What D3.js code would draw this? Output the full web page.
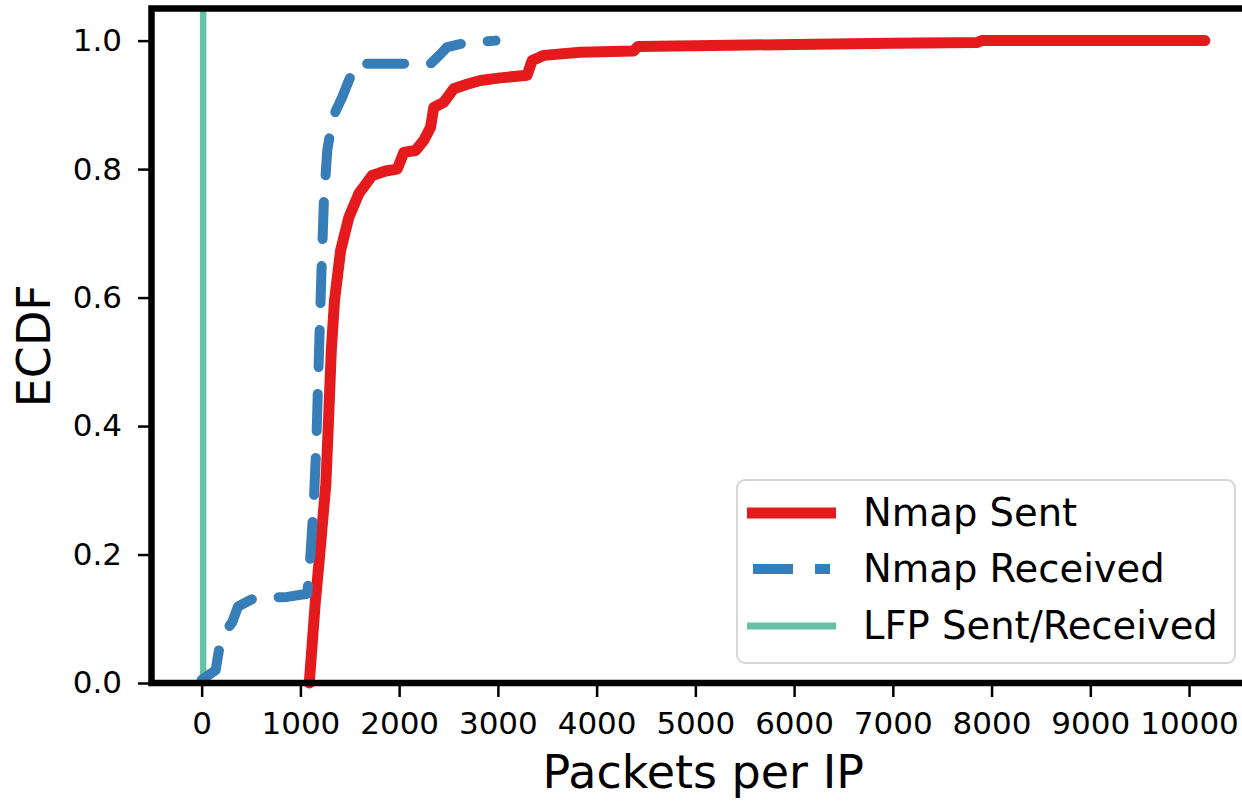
<!DOCTYPE html>
<html lang="en">
	<head>
		<meta charset="UTF-8">
		<title>ECDF of packets per IP</title>
		<script src="https://d3js.org/d3.v7.min.js"></script>
		<style>
			body { margin: 0; background: #fff; }
			text { font-family: "DejaVu Sans", sans-serif; fill: #000; }
		</style>
	</head>
	<body>
		<div id="chart"></div>

		<script type="text/javascript">
			// ECDF curves: [packets, cumulative fraction]
			const nmapSent = [
				[1090, 0], [1150, 0.124], [1190, 0.19], [1258, 0.31], [1289, 0.425],
				[1313, 0.518], [1346, 0.596], [1407, 0.673], [1491, 0.725], [1592, 0.762],
				[1727, 0.790], [1862, 0.797], [1981, 0.800], [2048, 0.826], [2166, 0.829],
				[2250, 0.845], [2318, 0.865], [2351, 0.896], [2452, 0.904], [2553, 0.925],
				[2688, 0.932], [2823, 0.938], [3026, 0.942], [3296, 0.946], [3347, 0.969],
				[3465, 0.977], [3836, 0.982], [4375, 0.984], [4420, 0.991], [5000, 0.992],
				[6000, 0.994], [7000, 0.996], [7850, 0.997], [7900, 1.0], [10160, 1.0]
			];

			const nmapReceived = [
				[0, 0.005], [142, 0.02], [175, 0.051], [226, 0.077], [311, 0.095],
				[368, 0.119], [530, 0.132], [867, 0.134], [1070, 0.139], [1103, 0.202],
				[1137, 0.285], [1160, 0.367], [1177, 0.456], [1194, 0.544], [1215, 0.648],
				[1238, 0.751], [1272, 0.829], [1306, 0.860], [1356, 0.890], [1424, 0.912],
				[1491, 0.938], [1559, 0.964], [2318, 0.964], [2419, 0.979], [2487, 0.990],
				[2688, 0.997], [2976, 1.0]
			];

			// LFP sends/receives the same small count for every IP
			const lfpPackets = 15;

			const xTicks = [0, 1000, 2000, 3000, 4000, 5000, 6000, 7000, 8000, 9000, 10000];
			const yTicks = [0, 0.2, 0.4, 0.6, 0.8, 1.0];

			const seriesNames = ['Nmap Sent', 'Nmap Received', 'LFP Sent/Received'];
			const seriesColors = ['#e41a1c', '#377eb8', '#66c2a5'];

			const W = 1242, H = 801;
			const plotLeft = 151.5, plotTop = 8.5, plotBottom = 683, plotRight = 1255;

			const svg = d3.select('#chart')
				.append('svg')
				.attr('width', W)
				.attr('height', H);

			const x = d3.scaleLinear()
				.domain([-508, 10668])
				.range([plotLeft, plotRight]);

			const y = d3.scaleLinear()
				.domain([0, 1.05])
				.range([plotBottom, plotTop]);

			const line = d3.line()
				.x(d => x(d[0]))
				.y(d => y(d[1]));

			// LFP vertical line over the full height
			svg.append('path')
				.datum([[lfpPackets, 0], [lfpPackets, 1.05]])
				.attr('d', line)
				.attr('fill', 'none')
				.attr('stroke', seriesColors[2])
				.attr('stroke-width', 6.5);

			svg.append('path')
				.datum(nmapSent)
				.attr('d', line)
				.attr('fill', 'none')
				.attr('stroke', seriesColors[0])
				.attr('stroke-width', 11)
				.attr('stroke-linecap', 'round')
				.attr('stroke-linejoin', 'round');

			svg.append('path')
				.datum(nmapReceived)
				.attr('d', line)
				.attr('fill', 'none')
				.attr('stroke', seriesColors[1])
				.attr('stroke-width', 10)
				.attr('stroke-dasharray', '37 27')
				.attr('stroke-linecap', 'round')
				.attr('stroke-linejoin', 'round');

			// axes
			const xAxis = svg.append('g')
				.attr('transform', `translate(0,${plotBottom})`)
				.call(d3.axisBottom(x).tickValues(xTicks).tickSize(14).tickPadding(15).tickFormat(d3.format('d')));
			xAxis.select('.domain').remove();
			xAxis.selectAll('.tick line').attr('stroke', '#000').attr('stroke-width', 2.5);
			xAxis.selectAll('.tick text').attr('font-size', 31);

			const yAxis = svg.append('g')
				.attr('transform', `translate(${plotLeft},0)`)
				.call(d3.axisLeft(y).tickValues(yTicks).tickSize(13.5).tickPadding(16).tickFormat(d3.format('.1f')));
			yAxis.select('.domain').remove();
			yAxis.selectAll('.tick line').attr('stroke', '#000').attr('stroke-width', 2.5);
			yAxis.selectAll('.tick text').attr('font-size', 31);

			// spines
			svg.append('rect')
				.attr('x', plotLeft)
				.attr('y', plotTop)
				.attr('width', plotRight - plotLeft)
				.attr('height', plotBottom - plotTop)
				.attr('fill', 'none')
				.attr('stroke', '#000')
				.attr('stroke-width', 6.5);

			// axis labels
			svg.append('text')
				.attr('x', (plotLeft + plotRight) / 2)
				.attr('y', 788)
				.attr('text-anchor', 'middle')
				.attr('font-size', 46)
				.text('Packets per IP');

			svg.append('text')
				.attr('transform', `translate(50,${(plotTop + plotBottom) / 2}) rotate(-90)`)
				.attr('text-anchor', 'middle')
				.attr('font-size', 46)
				.text('ECDF');

			// legend
			const legend = svg.append('g');
			legend.append('rect')
				.attr('x', 737)
				.attr('y', 480)
				.attr('width', 498)
				.attr('height', 183)
				.attr('rx', 8)
				.attr('fill', '#fff')
				.attr('fill-opacity', 0.8)
				.attr('stroke', '#d6d6d6')
				.attr('stroke-width', 2);

			const rowY = [513, 569, 626];
			seriesNames.forEach((name, i) => {
				const l = legend.append('line')
					.attr('x1', i === 1 ? 753 : 747)
					.attr('x2', i === 1 ? 830 : 836)
					.attr('y1', rowY[i])
					.attr('y2', rowY[i])
					.attr('stroke', seriesColors[i])
					.attr('stroke-width', [11, 10, 7][i]);
				if (i === 1) l.attr('stroke-dasharray', '40 22');
				legend.append('text')
					.attr('x', 863)
					.attr('y', rowY[i] + 13)
					.attr('font-size', 38.5)
					.text(name);
			});
		</script>
	</body>
</html>
